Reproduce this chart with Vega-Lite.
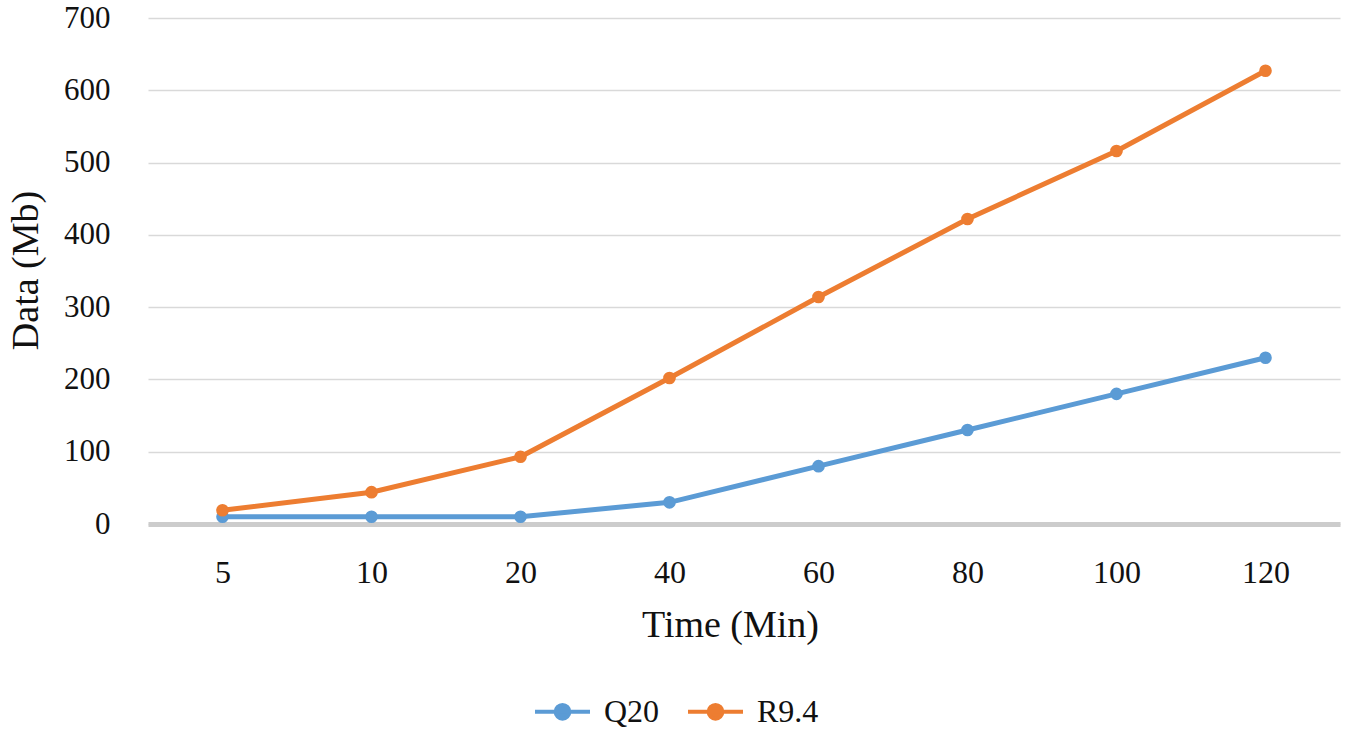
{
  "$schema": "https://vega.github.io/schema/vega-lite/v6.json",
  "width": 1192,
  "height": 506,
  "autosize": {"type": "none"},
  "padding": {"left": 148, "top": 18, "right": 11, "bottom": 213},
  "config": {
    "font": "Liberation Serif",
    "view": {"stroke": null},
    "axis": {"labelFont": "Liberation Serif", "titleFont": "Liberation Serif"},
    "legend": {"labelFont": "Liberation Serif", "titleFont": "Liberation Serif"}
  },
  "data": {
    "values": [
      {"time": 5, "series": "Q20", "data": 10},
      {"time": 10, "series": "Q20", "data": 10},
      {"time": 20, "series": "Q20", "data": 10},
      {"time": 40, "series": "Q20", "data": 30},
      {"time": 60, "series": "Q20", "data": 80},
      {"time": 80, "series": "Q20", "data": 130},
      {"time": 100, "series": "Q20", "data": 180},
      {"time": 120, "series": "Q20", "data": 230},
      {"time": 5, "series": "R9.4", "data": 19},
      {"time": 10, "series": "R9.4", "data": 44},
      {"time": 20, "series": "R9.4", "data": 93},
      {"time": 40, "series": "R9.4", "data": 202},
      {"time": 60, "series": "R9.4", "data": 314},
      {"time": 80, "series": "R9.4", "data": 422},
      {"time": 100, "series": "R9.4", "data": 516},
      {"time": 120, "series": "R9.4", "data": 627}
    ]
  },
  "encoding": {
    "x": {
      "field": "time",
      "type": "ordinal",
      "scale": {"type": "point", "padding": 0.5},
      "axis": {
        "title": "Time (Min)",
        "labelAngle": 0,
        "labelFont": "Liberation Serif",
        "labelFontSize": 32,
        "labelColor": "#111",
        "labelPadding": 33,
        "ticks": false,
        "tickSize": 0,
        "grid": false,
        "domainColor": "#cccccc",
        "domainWidth": 5,
        "titleFont": "Liberation Serif",
        "titleFontSize": 38,
        "titleFontWeight": "normal",
        "titleColor": "#111",
        "titleBaseline": "middle",
        "titleAlign": "center",
        "titleX": 582,
        "titleY": 101
      }
    },
    "y": {
      "field": "data",
      "type": "quantitative",
      "scale": {"domain": [0, 700]},
      "axis": {
        "title": "Data  (Mb)",
        "values": [0, 100, 200, 300, 400, 500, 600, 700],
        "labelFont": "Liberation Serif",
        "labelFontSize": 31,
        "labelColor": "#111",
        "labelPadding": 38,
        "ticks": false,
        "tickSize": 0,
        "domain": false,
        "gridColor": "#d9d9d9",
        "gridWidth": 1.5,
        "titleFont": "Liberation Serif",
        "titleFontSize": 38,
        "titleFontWeight": "normal",
        "titleColor": "#111",
        "titleBaseline": "middle",
        "titleAngle": -90,
        "titleX": -122,
        "titleY": 252
      }
    },
    "color": {
      "field": "series",
      "type": "nominal",
      "scale": {"domain": ["Q20", "R9.4"], "range": ["#5B9BD5", "#ED7D31"]},
      "legend": {
        "title": null,
        "orient": "none",
        "direction": "horizontal",
        "legendX": 385,
        "legendY": 664,
        "labelFont": "Liberation Serif",
        "labelFontSize": 32,
        "labelColor": "#111",
        "labelOffset": 12,
        "columnPadding": 20,
        "symbolType": "M-1,0L1,0M0.25,0A0.25,0.25,0,1,1,-0.25,0A0.25,0.25,0,1,1,0.25,0Z",
        "symbolSize": 3025,
        "symbolStrokeWidth": 4,
        "encode": {
          "symbols": {
            "update": {
              "fill": {"scale": "color", "field": "value"},
              "stroke": {"scale": "color", "field": "value"},
              "opacity": {"value": 1}
            }
          }
        }
      }
    }
  },
  "layer": [
    {"mark": {"type": "line", "strokeWidth": 5}},
    {"mark": {"type": "point", "filled": true, "size": 160, "opacity": 1}}
  ]
}
